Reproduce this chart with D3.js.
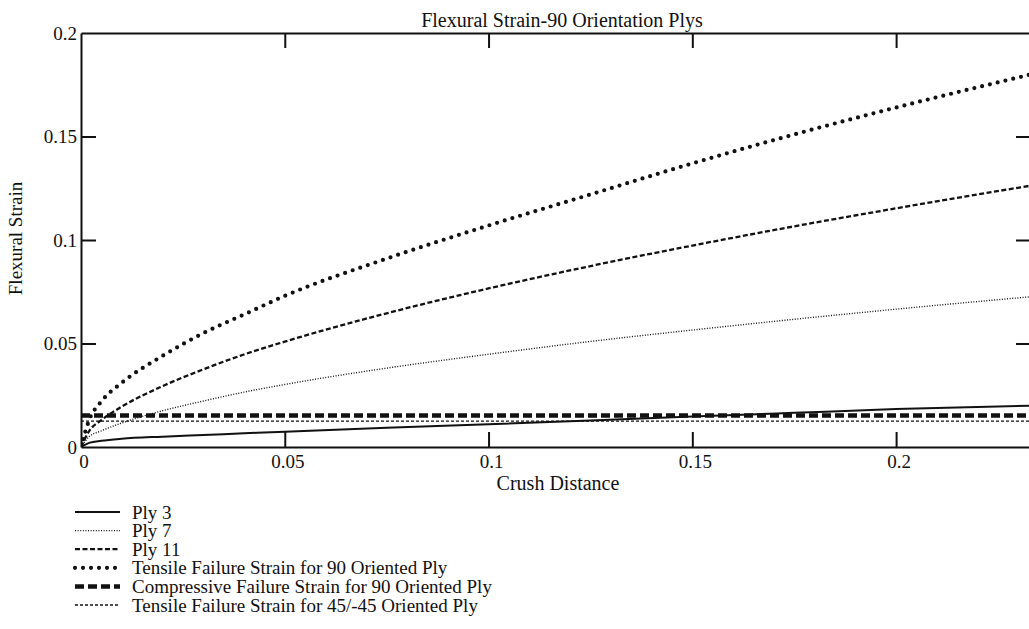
<!DOCTYPE html>
<html>
<head>
<meta charset="utf-8">
<script src="https://cdn.jsdelivr.net/npm/d3@7/dist/d3.min.js"></script>
<style>
  html, body { margin: 0; padding: 0; background: #fff; }
  svg { display: block; }
  text { font-family: "Liberation Serif", "Times New Roman", serif; fill: #111; }
</style>
</head>
<body>
<svg id="chart" width="1029" height="629"></svg>
<script>
// Crush distance samples shared by all curves
const crush = [0, 0.002, 0.005, 0.01, 0.02, 0.03, 0.04, 0.05, 0.075, 0.1, 0.125, 0.15, 0.175, 0.2, 0.2331];

// Flexural strain for each series
const ply3      = [0, 0.002, 0.003, 0.004, 0.005, 0.0058, 0.0066, 0.0074, 0.0093, 0.0110, 0.0128, 0.0147, 0.0165, 0.0183, 0.0200];
const ply7      = [0, 0.005, 0.0078, 0.0116, 0.0175, 0.0222, 0.0265, 0.0302, 0.0381, 0.0448, 0.0510, 0.0565, 0.0617, 0.0666, 0.0726];
const ply11     = [0, 0.0077, 0.0130, 0.0195, 0.0294, 0.0375, 0.0447, 0.0509, 0.0646, 0.0766, 0.0874, 0.0973, 0.1066, 0.1153, 0.1263];
const tens90    = [0, 0.013, 0.022, 0.031, 0.044, 0.055, 0.064, 0.073, 0.091, 0.107, 0.122, 0.137, 0.151, 0.164, 0.180];
const comp90    = [0.0152, 0.0152];
const tens45    = [0.0125, 0.0125];
const flatCrush = [0, 0.2331];

const xTicks = [0, 0.05, 0.1, 0.15, 0.2];
const yTicks = [0, 0.05, 0.1, 0.15, 0.2];

const legendLabels = [
  "Ply 3",
  "Ply 7",
  "Ply 11",
  "Tensile Failure Strain for 90 Oriented Ply",
  "Compressive Failure Strain for 90 Oriented Ply",
  "Tensile Failure Strain for 45/-45 Oriented Ply"
];

// Stroke styles, in legend order
const styles = [
  { width: 2,   dash: null,    cap: "butt" },
  { width: 1.4, dash: "1,1.6", cap: "butt" },
  { width: 2.3, dash: "5,2.5", cap: "butt" },
  { width: 4.2, dash: "0,8",   cap: "round" },
  { width: 4.5, dash: "9,4",   cap: "butt" },
  { width: 1.3, dash: "3,2",   cap: "butt" }
];

const series = [
  { xs: crush, ys: ply3 },
  { xs: crush, ys: ply7 },
  { xs: crush, ys: ply11 },
  { xs: crush, ys: tens90 },
  { xs: flatCrush, ys: comp90 },
  { xs: flatCrush, ys: tens45 }
];

const plotLeft = 81, plotRight = 1031, plotTop = 33, plotBottom = 447;
const x = d3.scaleLinear().domain([0, 0.2331]).range([plotLeft, plotRight]);
const y = d3.scaleLinear().domain([0, 0.2]).range([plotBottom, plotTop]);

const svg = d3.select("#chart");

svg.append("defs").append("clipPath").attr("id", "plot-clip")
  .append("rect").attr("x", plotLeft).attr("y", plotTop - 4)
  .attr("width", plotRight - plotLeft).attr("height", plotBottom - plotTop + 4);

// Curves
const line = d3.line()
  .x(d => x(d[0]))
  .y(d => y(d[1]))
  .curve(d3.curveMonotoneX);

const curves = svg.append("g").attr("clip-path", "url(#plot-clip)");
series.forEach((s, i) => {
  const pts = s.xs.map((v, j) => [v, s.ys[j]]);
  const st = styles[i];
  curves.append("path")
    .attr("d", line(pts))
    .attr("fill", "none")
    .attr("stroke", "#111")
    .attr("stroke-width", st.width)
    .attr("stroke-dasharray", st.dash)
    .attr("stroke-linecap", st.cap);
});

// Axes with inward ticks
const tickLen = 15;
const axisStyle = g => {
  g.select(".domain").attr("stroke", "#111").attr("stroke-width", 2);
  g.selectAll(".tick line").attr("stroke", "#111").attr("stroke-width", 2);
  g.selectAll(".tick text").remove();
};

svg.append("g").attr("transform", `translate(0,${plotBottom})`)
  .call(d3.axisTop(x).tickValues(xTicks.slice(1)).tickSize(tickLen).tickSizeOuter(0))
  .call(axisStyle);
svg.append("g").attr("transform", `translate(0,${plotTop})`)
  .call(d3.axisBottom(x).tickValues(xTicks.slice(1)).tickSize(tickLen).tickSizeOuter(0))
  .call(axisStyle);
svg.append("g").attr("transform", `translate(${plotLeft},0)`)
  .call(d3.axisRight(y).tickValues(yTicks.slice(1, -1)).tickSize(tickLen).tickSizeOuter(0))
  .call(axisStyle);
svg.append("g").attr("transform", `translate(${plotRight},0)`)
  .call(d3.axisLeft(y).tickValues(yTicks.slice(1, -1)).tickSize(tickLen).tickSizeOuter(0))
  .call(axisStyle);

// Tick labels
const fmt = v => (v === 0 ? "0" : String(v));
svg.append("g").selectAll("text").data(xTicks).join("text")
  .attr("x", d => x(d) + 3)
  .attr("y", 468)
  .attr("text-anchor", "middle")
  .attr("font-size", 19)
  .text(fmt);
svg.append("g").selectAll("text").data(yTicks).join("text")
  .attr("x", 77)
  .attr("y", d => y(d) + 6.5)
  .attr("text-anchor", "end")
  .attr("font-size", 19)
  .text(fmt);

// Title and axis titles
svg.append("text").attr("x", 562).attr("y", 27)
  .attr("text-anchor", "middle").attr("font-size", 20)
  .text("Flexural Strain-90 Orientation Plys");
svg.append("text").attr("x", 558).attr("y", 490)
  .attr("text-anchor", "middle").attr("font-size", 20)
  .text("Crush Distance");
svg.append("text")
  .attr("transform", "translate(22,238.5) rotate(-90)")
  .attr("text-anchor", "middle").attr("font-size", 19)
  .text("Flexural Strain");

// Legend
const legend = svg.append("g");
legendLabels.forEach((label, i) => {
  const ly = 512 + i * 18.6;
  const st = styles[i];
  legend.append("line")
    .attr("x1", 75).attr("x2", 120).attr("y1", ly).attr("y2", ly)
    .attr("stroke", "#111")
    .attr("stroke-width", st.width)
    .attr("stroke-dasharray", st.dash)
    .attr("stroke-linecap", st.cap);
  legend.append("text")
    .attr("x", 132).attr("y", ly + 6.5)
    .attr("font-size", 19)
    .text(label);
});
</script>
</body>
</html>
